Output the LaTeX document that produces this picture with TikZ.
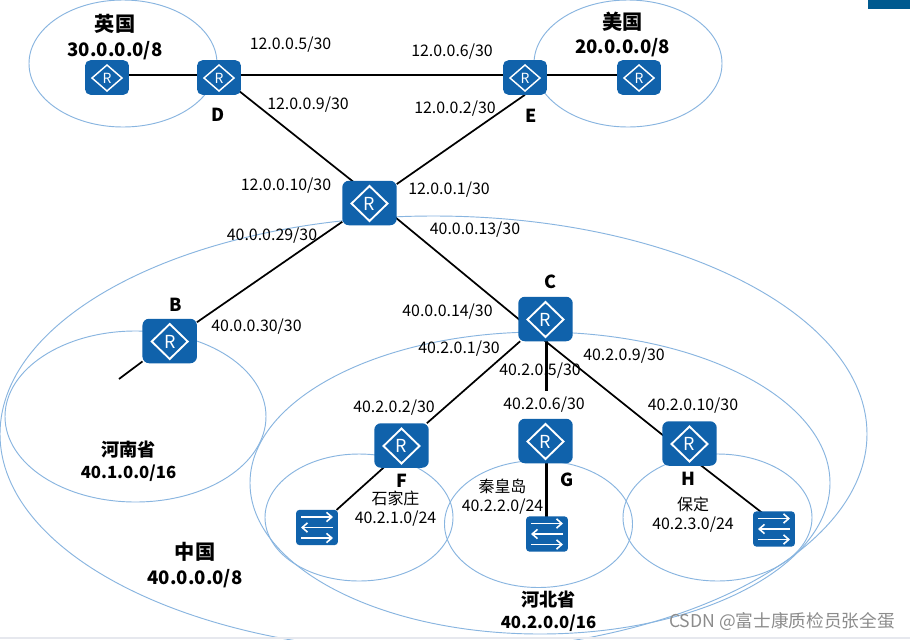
\documentclass[tikz,border=0pt]{standalone}
\usepackage{fontspec}
\setmainfont{Noto Sans CJK SC}
\usetikzlibrary{arrows.meta,calc,backgrounds}
\definecolor{huawei}{HTML}{1062AB}
\definecolor{ring}{HTML}{88B5E0}
\definecolor{barblue}{HTML}{005A8F}
\definecolor{strip}{HTML}{E6E8EE}
\newcommand{\PX}{0.0264583cm}
\newcommand{\sz}[2]{\fontsize{#1pt}{#2pt}\selectfont}
\tikzset{
  x=\PX, y=-\PX,
  every node/.style={inner sep=0pt, outer sep=0pt, text=black},
  region/.style={draw=ring, line width=0.7pt},
  link/.style={draw=black, line width=1.3pt},
  vlink/.style={draw=black, line width=1.7pt},
  addr/.style={font=\sz{12}{14}},
  widelabel/.style={align=center, font=\bfseries\sz{14}{18.75}},
  narrowlabel/.style={align=center, font=\bfseries\sz{12.6}{16.6}},
  smalll/.style={font=\sz{12}{14.25}, align=center},
  tag/.style={font=\sz{13.5}{15}\bfseries},
  router/.style={fill=huawei, rounded corners=4pt, minimum width=33pt, minimum height=26pt, draw=none},
  bigrouter/.style={fill=huawei, rounded corners=5pt, minimum width=41pt, minimum height=33.5pt, draw=none},
  switchbox/.style={fill=huawei, rounded corners=2.5pt, minimum width=31.5pt, minimum height=26.5pt, draw=none},
  swarrow/.style={draw=white, line width=1.2pt, -{Straight Barb[length=4pt,width=7pt]}},
}
% node, half width, half height, font size of the R, line width of the diamond
\newcommand{\Rmark}[5]{%
  \draw[white, line width=#5, line join=miter] ($(#1)+(-#2,0.5)$) -- ($(#1)+(0,0.5-#3)$) -- ($(#1)+(#2,0.5)$) -- ($(#1)+(0,0.5+#3)$) -- cycle;
  \node[font=\sz{#4}{#4}, text=white] at ($(#1)+(0,0.5)$) {R};
}
\newcommand{\Smark}[1]{%
  \draw[swarrow] ($(#1)+(-16,-10.5)$) -- ($(#1)+(16,-10.5)$);
  \draw[swarrow] ($(#1)+(16,0)$) -- ($(#1)+(-16,0)$);
  \draw[swarrow] ($(#1)+(-16,10.5)$) -- ($(#1)+(16,10.5)$);
}
\begin{document}
\begin{tikzpicture}
\useasboundingbox (0,0) rectangle (910,639);
\node[router] (ukr) at (107,77.5) {};
\node[router] (d) at (219,77.5) {};
\node[router] (e) at (525,77.5) {};
\node[router] (usr) at (639,77.5) {};
\node[bigrouter] (a) at (369.5,203) {};
\node[bigrouter] (c) at (545.5,319) {};
\node[bigrouter] (b) at (169.7,341) {};
\node[bigrouter] (f) at (401.5,445.5) {};
\node[bigrouter] (g) at (545.5,441) {};
\node[bigrouter] (h) at (689.5,443.5) {};
\node[switchbox] (sf) at (317,527.5) {};
\node[switchbox] (sg) at (547,534) {};
\node[switchbox] (sh) at (774,529) {};
\coordinate (bend) at (119,379);
\coordinate (gstub) at (546.5,391);
\begin{pgfonlayer}{background}
\fill[white] (0,0) rectangle (910,639);
\begin{scope}
\clip (0,0) rectangle (910,639);
\draw[region] (123,63.5) ellipse [x radius=94, y radius=63.5];
\draw[region] (628,63.5) ellipse [x radius=94, y radius=63.5];
\draw[region] (433.5,434) ellipse [x radius=433.5, y radius=218];
\draw[region] (540,483) ellipse [x radius=290, y radius=151];
\draw[region] (135.5,416.5) ellipse [x radius=130.5, y radius=85.5];
\draw[region] (359,517.5) ellipse [x radius=94, y radius=63.5];
\draw[region] (538.5,524) ellipse [x radius=94, y radius=63.5];
\draw[region] (717.5,517.5) ellipse [x radius=94.5, y radius=63.5];
\end{scope}
\fill[barblue] (868,0) rectangle (910,9);
\fill[strip] (0,637) rectangle (910,639);
\draw[link] ($(ukr)+(0,-2.5)$) -- ($(d)+(0,-2.5)$);
\draw[link] ($(d)+(0,-2.5)$) -- ($(e)+(0,-2.5)$);
\draw[link] ($(e)+(0,-2.5)$) -- ($(usr)+(0,-2.5)$);
\draw[link] ($(d)+(0,-2.5)$) -- ($(a)+(10.5,0)$);
\draw[link] (e.south) -- (a);
\draw[link] ($(a)+(0,-7)$) -- (c.south);
\draw[link] (a) -- (b);
\draw[link] (b) -- (bend);
\draw[link] (c) -- (f);
\draw[vlink] (gstub |- c) -- (gstub);
\draw[link] (c.south) -- ($(h)+(0,13)$);
\draw[link] ($(f)+(0,6)$) -- (sf);
\draw[vlink] (gstub |- g) -- (gstub |- sg);
\draw[link] ($(h)+(0,13)$) -- ($(sh)+(0,-7)$);
\end{pgfonlayer}
\foreach \n in {ukr,d,e,usr}{\Rmark{\n}{15}{13}{10.5}{1.1pt}}
\foreach \n in {a,c,b,f,g,h}{\Rmark{\n}{18}{17.5}{13.5}{1.4pt}}
\foreach \n in {sf,sg,sh}{\Smark{\n}}
\node[addr] (t1) at (290.5,45) {12.0.0.5/30};
\node[addr] (t2) at (452,52) {12.0.0.6/30};
\node[addr] (t3) at (308,105) {12.0.0.9/30};
\node[addr] (t4) at (455,109) {12.0.0.2/30};
\node[addr] (t5) at (286,186) {12.0.0.10/30};
\node[addr] (t6) at (449,190) {12.0.0.1/30};
\node[addr] (t7) at (272,236) {40.0.0.29/30};
\node[addr] (t8) at (475,230) {40.0.0.13/30};
\node[addr] (t9) at (256.5,327) {40.0.0.30/30};
\node[addr] (t10) at (447.5,312) {40.0.0.14/30};
\node[addr] (t11) at (459,349) {40.2.0.1/30};
\node[addr] (t12) at (540,371) {40.2.0.5/30};
\node[addr] (t13) at (624,356) {40.2.0.9/30};
\node[addr] (t14) at (394,408) {40.2.0.2/30};
\node[addr] (t15) at (544,405) {40.2.0.6/30};
\node[addr] (t16) at (693,406) {40.2.0.10/30};
\node[widelabel] (uk) at (115,37.5) {{\fontsize{15.2pt}{18.75pt}\selectfont 英国}\\30.0.0.0/8};
\node[widelabel] (us) at (622.5,34.5) {{\fontsize{15.2pt}{18.75pt}\selectfont 美国}\\20.0.0.0/8};
\node[narrowlabel] (henan) at (128.5,461) {{\fontsize{13.7pt}{16.6pt}\selectfont 河南省}\\40.1.0.0/16};
\node[widelabel] (china) at (195,565.5) {{\fontsize{15.2pt}{18.75pt}\selectfont 中国}\\40.0.0.0/8};
\node[narrowlabel] (hebei) at (548.5,611.5) {{\fontsize{13.7pt}{16.6pt}\selectfont 河北省}\\40.2.0.0/16};
\node[smalll] (sjz) at (395.5,508.5) {石家庄\\40.2.1.0/24};
\node[smalll] (qhd) at (502.5,496.5) {秦皇岛\\40.2.2.0/24};
\node[smalll] (bd) at (693,514.5) {保定\\40.2.3.0/24};
\node[tag] (ld) at (218,115) {D};
\node[tag] (le) at (531,116) {E};
\node[tag] (lc) at (550,282) {C};
\node[tag] (lb) at (175.7,305) {B};
\node[tag] (lf) at (402,481) {F};
\node[tag] (lg) at (567,480) {G};
\node[tag] (lh) at (688,479) {H};
\node[font=\sz{13.3}{15}, text=black!45] (wm) at (782,621) {CSDN @富士康质检员张全蛋};
\end{tikzpicture}
\end{document}
